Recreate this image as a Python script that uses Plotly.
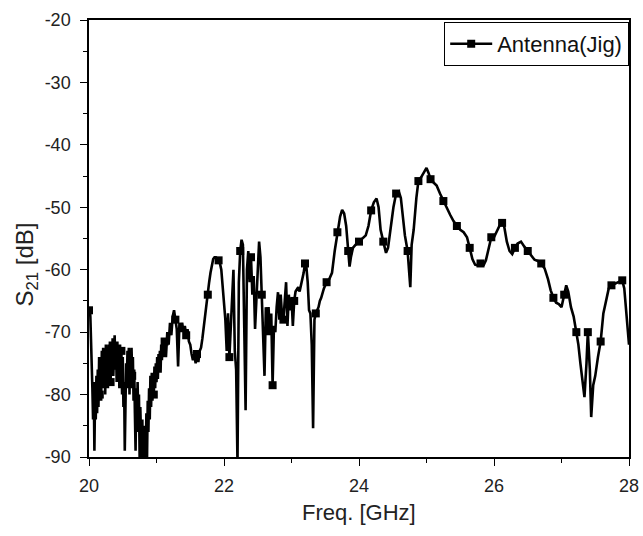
import plotly.graph_objects as go

freq_ghz = [
    20.00, 20.01, 20.02, 20.03, 20.04, 20.05, 20.06, 20.07, 20.08, 20.09,
    20.10, 20.11, 20.12, 20.13, 20.14, 20.15, 20.16, 20.17, 20.18, 20.19,
    20.20, 20.21, 20.22, 20.23, 20.24, 20.25, 20.26, 20.27, 20.28, 20.29,
    20.30, 20.31, 20.32, 20.33, 20.34, 20.35, 20.36, 20.37, 20.38, 20.39,
    20.40, 20.41, 20.42, 20.43, 20.44, 20.45, 20.46, 20.47, 20.48, 20.49,
    20.50, 20.51, 20.52, 20.53, 20.54, 20.55, 20.56, 20.57, 20.58, 20.59,
    20.60, 20.61, 20.62, 20.63, 20.64, 20.65, 20.66, 20.67, 20.68, 20.69,
    20.70, 20.71, 20.72, 20.73, 20.74, 20.75, 20.76, 20.77, 20.78, 20.79,
    20.80, 20.81, 20.82, 20.83, 20.84, 20.85, 20.86, 20.87, 20.88, 20.89,
    20.90, 20.91, 20.92, 20.93, 20.94, 20.95, 20.96, 20.97, 20.98, 20.99,
    21.00, 21.01, 21.02, 21.03, 21.04, 21.05, 21.06, 21.07, 21.08, 21.09,
    21.10, 21.12, 21.14, 21.16, 21.18,
    21.20, 21.22, 21.24, 21.26, 21.28, 21.30, 21.32, 21.34, 21.36, 21.38,
    21.40, 21.42, 21.44, 21.46, 21.48, 21.50, 21.52, 21.54, 21.56, 21.58,
    21.60, 21.62, 21.64, 21.66, 21.68, 21.70, 21.72, 21.74, 21.76, 21.78,
    21.80, 21.82, 21.84, 21.86, 21.88, 21.90, 21.92, 21.94, 21.96, 21.98,
    22.00, 22.02, 22.04, 22.06, 22.08, 22.10, 22.12, 22.14, 22.16, 22.18,
    22.20, 22.22, 22.24, 22.26, 22.28, 22.30, 22.32, 22.34, 22.36, 22.38,
    22.40, 22.42, 22.44, 22.46, 22.48, 22.50, 22.52, 22.54, 22.56, 22.58,
    22.60, 22.62, 22.64, 22.66, 22.68, 22.70, 22.72, 22.74, 22.76, 22.78,
    22.80, 22.82, 22.84, 22.86, 22.88, 22.90, 22.92, 22.94, 22.96, 22.98,
    23.00, 23.02, 23.04, 23.06, 23.08, 23.10, 23.12, 23.14, 23.16, 23.18,
    23.20, 23.22, 23.24, 23.26, 23.28, 23.30, 23.32, 23.34, 23.36, 23.38,
    23.40, 23.42, 23.44,
    23.48, 23.52, 23.56, 23.60, 23.64, 23.68, 23.72, 23.75, 23.78, 23.81,
    23.84, 23.86, 23.88, 23.91, 23.95, 24.00, 24.05, 24.10, 24.14, 24.18,
    24.22, 24.26, 24.29, 24.32, 24.36, 24.40, 24.43, 24.47, 24.51, 24.55,
    24.59, 24.62, 24.65, 24.68, 24.72, 24.76, 24.78, 24.81, 24.85, 24.88,
    24.92, 24.96, 25.00, 25.03, 25.06, 25.10, 25.15, 25.20, 25.25, 25.30,
    25.35, 25.40, 25.45, 25.50, 25.55, 25.60, 25.64, 25.68, 25.72, 25.76,
    25.80, 25.85, 25.88, 25.92, 25.96, 26.00, 26.04, 26.08, 26.12, 26.15,
    26.19, 26.23, 26.27, 26.31, 26.35, 26.40, 26.45, 26.50, 26.55, 26.60,
    26.65, 26.70, 26.75, 26.80, 26.84, 26.88, 26.92, 26.96, 27.00, 27.04,
    27.07, 27.10, 27.14, 27.18, 27.22, 27.25, 27.28, 27.31, 27.34, 27.37,
    27.39, 27.42, 27.44, 27.47, 27.50, 27.54, 27.58, 27.62, 27.66, 27.70,
    27.74, 27.78, 27.82, 27.86, 27.90, 27.93, 27.96, 28.00,
]

s21_db = [
    -66.5, -66, -67.5, -71, -73, -79, -84, -78, -89, -80,
    -84, -77, -83, -76, -82, -74, -80, -75, -81, -73,
    -79, -72.5, -78, -73, -80, -72, -77, -73.5, -79, -72,
    -76, -71.5, -78, -72, -75, -71, -77, -72, -70.5, -76,
    -72, -78, -71.5, -76, -72.5, -79, -72, -77, -73, -80,
    -74, -82, -78, -89, -80, -75, -79, -73, -78, -72.5,
    -80, -74, -79, -72.5, -77, -74, -81, -76, -83, -89,
    -79, -86, -78, -84, -80, -90, -82, -87, -91, -84,
    -91, -86, -92, -85, -91, -83, -90, -81, -86, -79,
    -84, -77, -82, -76.5, -81, -77, -80, -75.5, -79, -75,
    -78, -74, -77.5, -73.5, -76, -73, -76.5, -72, -74.5, -71.5,
    -74, -71.5, -74, -70, -72,
    -68.5, -70.5, -67.5, -66.5, -68, -69.5, -75.5, -68.5, -70, -68.5,
    -70, -69, -70.5, -69.5, -71.5, -72, -73.5, -74.5, -73.5, -75,
    -73.5, -74.8, -73, -72.5, -71, -69, -67, -65.5, -64, -62,
    -60.5, -59, -58.3, -58, -58, -58.2, -58.5, -59, -60, -63,
    -66, -68, -73, -67, -74, -69, -66, -60, -73, -76,
    -91, -62, -57, -55.2, -56, -70, -82.5, -60, -57, -62,
    -58, -64, -61, -69.5, -64, -58, -55.5, -58, -64, -68,
    -77, -66, -70.5, -66, -70.5, -67, -78.5, -69, -70, -66,
    -63.6, -68, -64, -67.5, -68, -65, -62, -69, -64, -66.5,
    -64.5, -69, -65, -63.5, -63, -62.8, -63.5, -62.5, -62, -60.5,
    -59, -59.5, -62, -66.5, -67, -72, -85.4, -68, -67, -66.5,
    -66, -65, -64.5,
    -63, -62, -61.5, -60.5, -57, -54, -51.5, -50.4, -51, -53,
    -57, -59.5, -58, -56.5, -56, -55.5, -55, -54.5, -53, -50.5,
    -49.2, -48.6, -50, -53.6, -55.5, -57.3, -56.5, -53, -50, -47.8,
    -47.5, -48.5, -51.5, -54.5, -57, -62.8, -56, -53.6, -48.5, -45.8,
    -45.2, -44.5, -43.7, -44.5, -45.5, -46, -46.5, -47.8, -49, -50,
    -51.2, -52.2, -53, -53.6, -54, -54.8, -56.5, -58.3, -59.2, -59.3,
    -59, -59.2, -58.5, -56.5, -54.8, -54.8, -54, -53, -52.5, -53,
    -55.5, -57, -57.5, -56.5, -55.8, -55.5, -56.3, -57, -57.8, -58.4,
    -58.6, -59, -59.8, -61.5, -63.3, -64.5, -65.3, -65.5, -66, -64,
    -62.5, -63.5, -66, -67.5, -70, -72, -75, -78, -80.4, -75,
    -70, -76, -83.6, -78.5, -77, -74, -71.5, -67, -65, -63,
    -62.5, -62.3, -62, -61.8, -61.7, -63, -67, -72,
]

series_name = "Antenna(Jig)"
x_title = "Freq. [GHz]"
y_title = "S<sub>21</sub> [dB]"
x_ticks = [20, 22, 24, 26, 28]
y_ticks = [-90, -80, -70, -60, -50, -40, -30, -20]

# sparse square markers, Origin-style (one every ~0.16 GHz)
marker_sizes = []
last = -1e9
for f in freq_ghz:
    if f - last >= 0.155:
        marker_sizes.append(8)
        last = f
    else:
        marker_sizes.append(0)

FONT = "Liberation Sans, Arial, sans-serif"

fig = go.Figure()
fig.add_trace(go.Scatter(
    x=freq_ghz, y=s21_db, mode="lines+markers",
    line=dict(color="black", width=2.6),
    marker=dict(symbol="square", size=marker_sizes, color="black", opacity=1,
                line=dict(width=0)),
    showlegend=False,
))
fig.add_trace(go.Scatter(
    x=[None], y=[None], mode="lines+markers", name=series_name,
    line=dict(color="black", width=2.6),
    marker=dict(symbol="square", size=8, color="black", opacity=1),
))

axis_common = dict(
    showgrid=False, zeroline=False, showline=True, linecolor="black", linewidth=1.5,
    mirror=True, ticks="outside", ticklen=7, tickwidth=1.3, tickcolor="black",
    tickfont=dict(family=FONT, size=18, color="#222"),
)
fig.update_xaxes(
    range=[20, 28], tickvals=x_ticks, ticktext=[str(v) for v in x_ticks],
    minor=dict(ticks="outside", ticklen=4, tickwidth=1.3, tickcolor="black", dtick=1),
    ticklabelstandoff=5,
    **axis_common,
)
fig.update_yaxes(
    range=[-90, -20], tickvals=y_ticks, ticktext=[str(v) for v in y_ticks],
    minor=dict(ticks="outside", ticklen=4, tickwidth=1.3, tickcolor="black", dtick=5),
    ticklabelstandoff=6,
    **axis_common,
)

fig.update_layout(
    width=643, height=536,
    margin=dict(l=89, r=14, t=20, b=79, autoexpand=False),
    paper_bgcolor="white", plot_bgcolor="white",
    legend=dict(
        x=1, xanchor="right", y=0.996, yanchor="top",
        bordercolor="black", borderwidth=1.2, bgcolor="white",
        font=dict(family=FONT, size=22, color="#111"),
        itemwidth=42, tracegroupgap=0,
    ),
    annotations=[
        dict(text="(a)", xref="paper", yref="paper", x=0.33, y=1.04,
             xanchor="center", yanchor="bottom", showarrow=False,
             font=dict(family=FONT, size=17, color="#222")),
        dict(text=x_title, xref="paper", yref="paper", x=0.5, y=-0.128,
             xanchor="center", yanchor="middle", showarrow=False,
             font=dict(family=FONT, size=22, color="#222")),
        dict(text=y_title, xref="paper", yref="paper", x=-0.115, y=0.44,
             xanchor="center", yanchor="middle", showarrow=False, textangle=-90,
             font=dict(family=FONT, size=24, color="#222")),
    ],
)

fig.write_html("out.html")
